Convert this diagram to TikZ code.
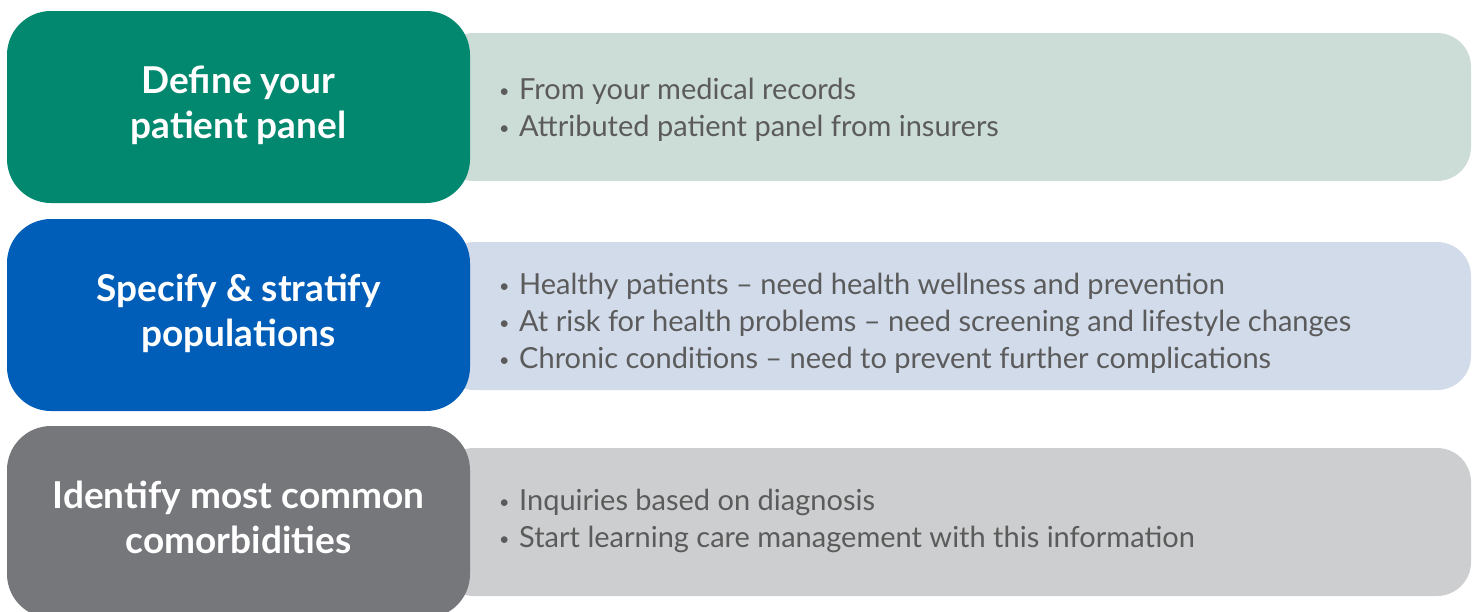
\documentclass[tikz,border=0pt]{standalone}
\usepackage{fontspec}
\setmainfont{Lato}
\definecolor{stepgreen}{HTML}{02886E}
\definecolor{stepblue}{HTML}{005EB8}
\definecolor{stepgray}{HTML}{75777B}
\definecolor{panelgreen}{HTML}{CCDCD7}
\definecolor{panelblue}{HTML}{D1DBEA}
\definecolor{panelgray}{HTML}{CDCECF}
\definecolor{bullettext}{HTML}{5B5B5B}
% small list bullet followed by a gap
\newcommand{\pbul}{\makebox[20pt][l]{\raisebox{2pt}{\fontsize{18}{18}\selectfont•}}}
\tikzset{
  headbox/.style={rounded corners=44pt, minimum width=463pt, minimum height=192pt,
    inner sep=0pt},
  headtext/.style={inner sep=0pt, text=white, align=center,
    font=\fontsize{37}{45}\selectfont\bfseries},
  panelbox/.style={rounded corners=34pt, minimum width=1031pt, minimum height=148pt,
    inner sep=0pt},
  bulletlist/.style={anchor=west, align=left, inner sep=0pt, text=bullettext,
    font=\fontsize{29}{37}\selectfont},
}
\begin{document}
\begin{tikzpicture}[x=1pt,y=-1pt]
\useasboundingbox (0,0) rectangle (1478,611);
\clip (0,0) rectangle (1478,611);
% light panels behind the step boxes
\node[panelbox, fill=panelgreen] (p1) at (955.5,107) {};
\node[panelbox, fill=panelblue]  (p2) at (955.5,316) {};
\node[panelbox, fill=panelgray]  (p3) at (955.5,522) {};
% step boxes
\node[headbox, fill=stepgreen] (h1) at (238.5,107) {};
\node[headbox, fill=stepblue]  (h2) at (238.5,315) {};
\node[headbox, fill=stepgray]  (h3) at (238.5,522) {};
% step titles
\node[headtext] (t1) at ([yshift=2pt]h1.center) {Define your\\patient panel};
\node[headtext] (t2) at ([yshift=2pt]h2.center) {Specify \& stratify\\populations};
\node[headtext] (t3) at ([yshift=4.5pt]h3.center) {Identify most common\\comorbidities};
% bullet lists
\node[bulletlist] (b1) at (499,110) {\pbul From your medical records\\\pbul Attributed patient panel from insurers};
\node[bulletlist] (b2) at (499,323) {\pbul Healthy patients – need health wellness and prevention\\\pbul At risk for health problems – need screening and lifestyle changes\\\pbul Chronic conditions – need to prevent further complications};
\node[bulletlist] (b3) at (499,521) {\pbul Inquiries based on diagnosis\\\pbul Start learning care management with this information};
\end{tikzpicture}
\end{document}
